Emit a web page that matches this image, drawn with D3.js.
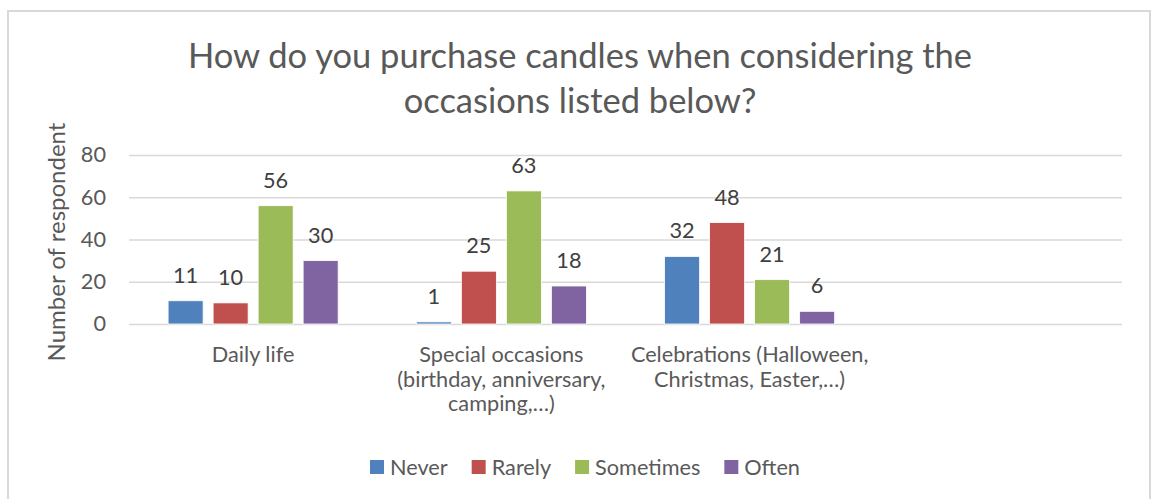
<!DOCTYPE html>
<html><head><meta charset="utf-8">
<script src="https://cdn.jsdelivr.net/npm/d3@7"></script>
<style>
html,body{margin:0;padding:0;background:#fff;}
svg{display:block;font-family:Lato,"Open Sans",sans-serif;}
</style></head>
<body><svg id="chart" width="1152" height="499"></svg>
<script>
const categories = ["Daily life", "Special occasions (birthday, anniversary, camping,…)", "Celebrations (Halloween, Christmas, Easter,…)", ""];
const categoryLines = [["Daily life"], ["Special occasions", "(birthday, anniversary,", "camping,…)"], ["Celebrations (Halloween,", "Christmas, Easter,…)"], []];
const seriesNames = ["Never", "Rarely", "Sometimes", "Often"];
const never = [11, 1, 32, null];
const rarely = [10, 25, 48, null];
const sometimes = [56, 63, 21, null];
const often = [30, 18, 6, null];
const yTicks = [0, 20, 40, 60, 80];
const titleLines = ["How do you purchase candles when considering the", "occasions listed below?"];
const yTitle = "Number of respondent";
const colors = ["#4F81BD", "#C0504D", "#9BBB59", "#8064A2"];

const seriesValues = [never, rarely, sometimes, often];
const svg = d3.select("#chart");
const textColor = "#595959";
const fs = 21.7;

// chart border
svg.append("rect").attr("x", 8).attr("y", 11).attr("width", 1142).attr("height", 500)
  .attr("fill", "#fff").attr("stroke", "#d9d9d9").attr("stroke-width", 2);

const plot = {left: 129, right: 1122, top: 155, bottom: 324};
const x = d3.scaleBand().domain(categories).range([plot.left, plot.right]).padding(0);
const y = d3.scaleLinear().domain([0, 80]).range([plot.bottom, plot.top]);
const groupW = x.bandwidth() * 0.685;
const xs = d3.scaleBand().domain(seriesNames).range([0, groupW]).paddingInner(0.222).paddingOuter(0);

// gridlines
svg.append("g").attr("transform", `translate(${plot.left},0)`)
  .call(d3.axisLeft(y).tickValues(yTicks).tickSize(-(plot.right - plot.left)).tickFormat(""))
  .call(g => g.select(".domain").remove())
  .call(g => g.selectAll("line").attr("stroke", "#d9d9d9").attr("stroke-width", 1.5));

// y tick labels
svg.append("g").attr("transform", `translate(${plot.left},0)`)
  .call(d3.axisLeft(y).tickValues(yTicks).tickSize(0).tickPadding(23))
  .call(g => g.select(".domain").remove())
  .call(g => g.selectAll("text").attr("fill", textColor).attr("font-size", fs + "px")
    .attr("font-family", 'Lato,"Open Sans",sans-serif'));

// bars
seriesValues.forEach((vals, si) => {
  const g = svg.append("g");
  const data = categories.map((c, i) => ({c, v: vals[i]})).filter(d => d.v != null);
  g.selectAll("rect").data(data).join("rect")
    .attr("x", d => x(d.c) + (x.bandwidth() - groupW) / 2 + xs(seriesNames[si]))
    .attr("width", xs.bandwidth())
    .attr("y", d => y(d.v))
    .attr("height", d => y(0) - y(d.v))
    .attr("fill", colors[si]).attr("stroke", "#fff").attr("stroke-width", 0.8);
  g.selectAll("text").data(data).join("text")
    .attr("x", d => x(d.c) + (x.bandwidth() - groupW) / 2 + xs(seriesNames[si]) + xs.bandwidth() / 2)
    .attr("y", d => y(d.v) - 18)
    .attr("text-anchor", "middle").attr("fill", "#404040").attr("font-size", fs + "px")
    .text(d => d.v);
});

// category labels
const cat = svg.append("g");
categories.forEach((c, i) => {
  const t = cat.append("text").attr("text-anchor", "middle").attr("fill", textColor)
    .attr("font-size", fs + "px");
  categoryLines[i].forEach((ln, j) => {
    t.append("tspan").attr("x", x(c) + x.bandwidth() / 2).attr("y", 362 + j * 24.5).text(ln);
  });
});

// title
titleLines.forEach((t, i) => {
  svg.append("text").attr("x", 580).attr("y", 68 + i * 45).attr("text-anchor", "middle")
    .attr("fill", textColor).attr("font-size", "34.5px").text(t);
});

// y axis title
svg.append("text").attr("transform", `translate(65,242) rotate(-90)`)
  .attr("text-anchor", "middle").attr("fill", textColor).attr("font-size", "24px").text(yTitle);

// legend
const legend = svg.append("g");
let lx = 370;
seriesNames.forEach((n, i) => {
  const g = legend.append("g").attr("transform", `translate(${lx},0)`);
  g.append("rect").attr("x", 0).attr("y", 460).attr("width", 14).attr("height", 14).attr("fill", colors[i]);
  const t = g.append("text").attr("x", 20).attr("y", 475).attr("fill", textColor).attr("font-size", fs + "px").text(n);
  lx += 20 + t.node().getComputedTextLength() + 24;
});
</script></body></html>
